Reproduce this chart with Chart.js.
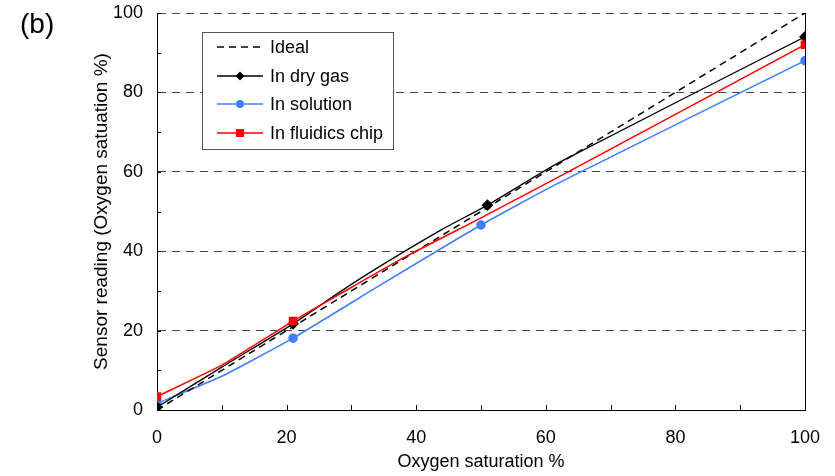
<!DOCTYPE html>
<html>
<head>
<meta charset="utf-8">
<script src="https://cdn.jsdelivr.net/npm/chart.js@4"></script>
<style>
  body { margin: 0; background: #fff; }
  #wrap { position: relative; width: 835px; height: 476px; }
  #panel { position: absolute; left: 20px; top: 8px; font: 28px 'Liberation Sans', Arial, sans-serif; color: #000; }
</style>
</head>
<body>
<div id="wrap">
  <canvas id="chart" width="835" height="476"></canvas>
  <div id="panel">(b)</div>
</div>
<script>
// Sensor calibration

const seriesNames = ["Ideal", "In dry gas", "In solution", "In fluidics chip"];

const idealX = [0, 100];
const idealY = [0, 100];

const dryGasX = [0, 10, 21, 28, 34, 44, 51, 62, 100];
const dryGasY = [0.7, 10.8, 21.7, 29.5, 35.8, 45.5, 51.6, 62.3, 94];
const dryGasMarked = [0, 21, 51, 100];

const solutionX = [0, 10, 21, 35, 50, 62, 100];
const solutionY = [1.7, 8.5, 18.1, 32, 46.6, 57.2, 88];
const solutionMarked = [0, 21, 50, 100];

const chipX = [0, 10, 21, 28, 38, 50, 62, 100];
const chipY = [3.4, 11.3, 22.4, 29, 38.3, 48.4, 58.7, 92];
const chipMarked = [0, 21, 100];

const FONT = "'Liberation Sans', Arial, sans-serif";

function points(xs, ys) {
  return xs.map((x, i) => ({ x: x, y: ys[i] }));
}
function radii(xs, marked, r) {
  return xs.map(x => marked.includes(x) ? r : 0);
}

// inward tick marks like the original
const innerTicks = {
  id: 'innerTicks',
  afterDraw(chart) {
    const ctx = chart.ctx;
    const xs = chart.scales.x, ys = chart.scales.y;
    ctx.save();
    ctx.strokeStyle = '#000';
    ctx.lineWidth = 1;
    ctx.beginPath();
    xs.ticks.forEach(t => {
      const px = Math.round(xs.getPixelForValue(t.value)) + 0.5;
      ctx.moveTo(px, ys.bottom);
      ctx.lineTo(px, ys.bottom - 5);
    });
    ys.ticks.forEach(t => {
      const py = Math.round(ys.getPixelForValue(t.value)) + 0.5;
      ctx.moveTo(xs.left, py);
      ctx.lineTo(xs.left + 4, py);
    });
    ctx.stroke();
    ctx.restore();
  }
};

// boxed legend inside the plot area
const boxLegend = {
  id: 'boxLegend',
  afterDraw(chart) {
    const ctx = chart.ctx;
    const left = 202, top = 32, w = 191, h = 117;
    ctx.save();
    ctx.fillStyle = '#fff';
    ctx.fillRect(left, top, w, h);
    ctx.strokeStyle = '#555';
    ctx.lineWidth = 1;
    ctx.strokeRect(left + 0.5, top + 0.5, w, h);
    ctx.font = '18px ' + FONT;
    ctx.textBaseline = 'middle';
    const rows = [47, 76, 104, 133];
    const byLabel = {};
    chart.data.datasets.forEach(ds => byLabel[ds.label] = ds);
    seriesNames.forEach((name, i) => {
      const ds = byLabel[name];
      const y = rows[i];
      ctx.strokeStyle = ds.borderColor;
      ctx.lineWidth = ds.borderWidth;
      ctx.setLineDash(ds.borderDash || []);
      ctx.beginPath();
      ctx.moveTo(217, y);
      ctx.lineTo(263, y);
      ctx.stroke();
      ctx.setLineDash([]);
      ctx.fillStyle = ds.borderColor;
      if (ds.pointStyle === 'rectRot') {
        ctx.beginPath();
        ctx.moveTo(240, y - 4.5); ctx.lineTo(244.5, y); ctx.lineTo(240, y + 4.5); ctx.lineTo(235.5, y);
        ctx.closePath(); ctx.fill();
      } else if (ds.pointStyle === 'circle') {
        ctx.beginPath(); ctx.arc(240, y, 4, 0, Math.PI * 2); ctx.fill();
      } else if (ds.pointStyle === 'rect') {
        ctx.fillRect(236, y - 4, 8, 8);
      }
      ctx.fillStyle = '#000';
      ctx.fillText(name, 270, y + 1);
    });
    ctx.restore();
  }
};

new Chart(document.getElementById('chart'), {
  type: 'line',
  data: {
    datasets: [
      {
        label: seriesNames[0],
        data: points(idealX, idealY),
        borderColor: '#000',
        borderWidth: 1.5,
        borderDash: [7, 5],
        pointRadius: 0,
        order: 1
      },
      {
        label: seriesNames[1],
        data: points(dryGasX, dryGasY),
        borderColor: '#000',
        backgroundColor: '#000',
        borderWidth: 1.3,
        pointStyle: 'rectRot',
        pointRadius: radii(dryGasX, dryGasMarked, 5),
        order: 2
      },
      {
        label: seriesNames[2],
        data: points(solutionX, solutionY),
        borderColor: '#3f7fff',
        backgroundColor: '#3f7fff',
        borderWidth: 1.5,
        pointStyle: 'circle',
        pointRadius: radii(solutionX, solutionMarked, 4),
        order: 3
      },
      {
        label: seriesNames[3],
        data: points(chipX, chipY),
        borderColor: '#ff0000',
        backgroundColor: '#ff0000',
        borderWidth: 1.5,
        pointStyle: 'rect',
        pointRadius: radii(chipX, chipMarked, 5),
        order: 0
      }
    ]
  },
  options: {
    responsive: false,
    animation: false,
    layout: { padding: { left: 0, right: 30, top: 13, bottom: 0 } },
    elements: { line: { tension: 0.15 }, point: { borderWidth: 0 } },
    plugins: { legend: { display: false }, tooltip: { enabled: false } },
    scales: {
      x: {
        type: 'linear',
        min: 0, max: 100,
        afterFit: s => { s.height = 66; s.paddingLeft = 0; s.paddingRight = 0; },
        grid: {
          drawTicks: false,
          color: c => c.tick && c.tick.value === 100 ? '#000' : 'transparent'
        },
        border: { display: true, color: '#000', width: 1 },
        ticks: {
          stepSize: 10,
          padding: 17,
          color: '#000',
          font: { family: FONT, size: 18 },
          maxRotation: 0,
          callback: v => v % 20 === 0 ? v : ''
        },
        title: {
          display: true,
          text: 'Oxygen saturation %',
          color: '#000',
          font: { family: FONT, size: 18 },
          padding: { top: 0, bottom: 3 }
        }
      },
      y: {
        min: 0, max: 100,
        afterFit: s => { s.width = 157; s.paddingTop = 0; s.paddingBottom = 0; },
        grid: {
          drawTicks: false,
          color: c => c.tick && c.tick.value > 0 && c.tick.value % 20 === 0 ? '#444' : 'transparent'
        },
        border: { display: true, color: '#000', width: 1, dash: [8, 6] },
        ticks: {
          stepSize: 10,
          padding: 14,
          color: '#000',
          font: { family: FONT, size: 18 },
          callback: v => v % 20 === 0 ? v : ''
        },
        title: {
          display: true,
          text: 'Sensor reading (Oxygen satuation %)',
          color: '#000',
          font: { family: FONT, size: 19 },
          padding: { top: 90, bottom: 0 }
        }
      }
    }
  },
  plugins: [innerTicks, boxLegend]
});
</script>
</body>
</html>
